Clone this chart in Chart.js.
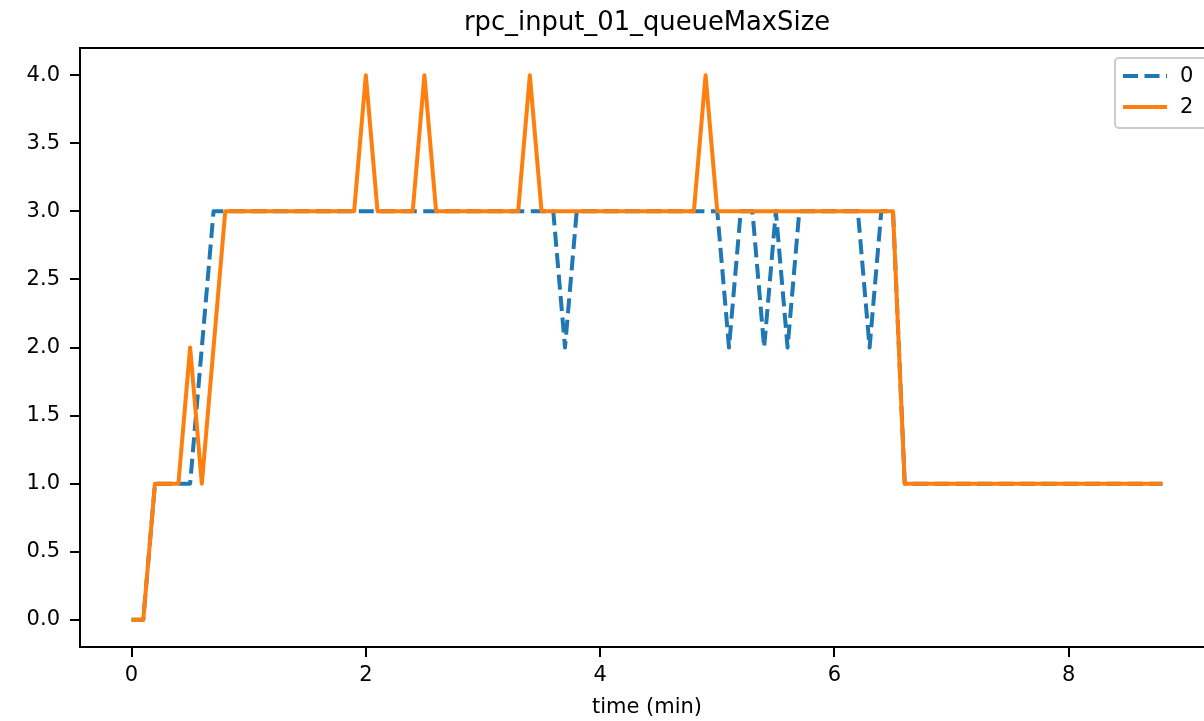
<!DOCTYPE html>
<html>
<head>
<meta charset="utf-8">
<script src="https://cdn.jsdelivr.net/npm/chart.js@4"></script>
<style>
  html, body { margin: 0; padding: 0; background: #fff; }
  #wrap { width: 1204px; height: 721px; overflow: hidden; position: relative; }
  canvas { display: block; }
</style>
</head>
<body>
<div id="wrap"><canvas id="c" width="1220" height="721"></canvas></div>
<script>
const chartTitle = "rpc_input_01_queueMaxSize";
const xLabel = "time (min)";
const seriesNames = ["0", "2"];
const times = [
  0.0,0.1,0.2,0.3,0.4,0.5,0.6,0.7,0.8,0.9,
  1.0,1.1,1.2,1.3,1.4,1.5,1.6,1.7,1.8,1.9,
  2.0,2.1,2.2,2.3,2.4,2.5,2.6,2.7,2.8,2.9,
  3.0,3.1,3.2,3.3,3.4,3.5,3.6,3.7,3.8,3.9,
  4.0,4.1,4.2,4.3,4.4,4.5,4.6,4.7,4.8,4.9,
  5.0,5.1,5.2,5.3,5.4,5.5,5.6,5.7,5.8,5.9,
  6.0,6.1,6.2,6.3,6.4,6.5,6.6,6.7,6.8,6.9,
  7.0,7.1,7.2,7.3,7.4,7.5,7.6,7.7,7.8,7.9,
  8.0,8.1,8.2,8.3,8.4,8.5,8.6,8.7,8.8
];
const series0 = [
  0,0,1,1,1,1,2,3,3,3,
  3,3,3,3,3,3,3,3,3,3,
  3,3,3,3,3,3,3,3,3,3,
  3,3,3,3,3,3,3,2,3,3,
  3,3,3,3,3,3,3,3,3,3,
  3,2,3,3,2,3,2,3,3,3,
  3,3,3,2,3,3,1,1,1,1,
  1,1,1,1,1,1,1,1,1,1,
  1,1,1,1,1,1,1,1,1
];
const series2 = [
  0,0,1,1,1,2,1,2,3,3,
  3,3,3,3,3,3,3,3,3,3,
  4,3,3,3,3,4,3,3,3,3,
  3,3,3,3,4,3,3,3,3,3,
  3,3,3,3,3,3,3,3,3,4,
  3,3,3,3,3,3,3,3,3,3,
  3,3,3,3,3,3,1,1,1,1,
  1,1,1,1,1,1,1,1,1,1,
  1,1,1,1,1,1,1,1,1
];
const xTicks = [0, 2, 4, 6, 8];
const yTicks = [0, 0.5, 1, 1.5, 2, 2.5, 3, 3.5, 4];

const BLUE = "#1f77b4", ORANGE = "#ff7f0e";
const FONT = "'DejaVu Sans', sans-serif";
const TICK_SIZE = 21;
const pts = (ys) => times.map((t, i) => ({ x: t, y: ys[i] }));

const frame = {
  id: "frame",
  afterDatasetsDraw(chart) {
    const { ctx, chartArea: a } = chart;
    ctx.save();
    ctx.strokeStyle = "#000";
    ctx.lineWidth = 2;
    ctx.strokeRect(a.left, a.top, a.right - a.left, a.bottom - a.top);
    ctx.restore();
  },
  afterDraw(chart) {
    const { ctx, chartArea: a } = chart;
    const ds = chart.data.datasets;
    ctx.save();
    // title centred over the axes
    ctx.fillStyle = "#000";
    ctx.font = "25.8px " + FONT;
    ctx.textAlign = "center";
    ctx.textBaseline = "middle";
    ctx.fillText(chartTitle, (a.left + a.right) / 2, 23);
    // legend
    const x0 = a.right - 99, y0 = a.top + 10, w = 120, h = 70;
    ctx.beginPath();
    ctx.roundRect(x0, y0, w, h, 4);
    ctx.fillStyle = "rgba(255,255,255,0.8)";
    ctx.fill();
    ctx.strokeStyle = "#cccccc";
    ctx.lineWidth = 2;
    ctx.stroke();
    const rows = [y0 + 18, y0 + 49];
    ds.forEach((d, i) => {
      ctx.beginPath();
      ctx.strokeStyle = d.borderColor;
      ctx.lineWidth = 4;
      ctx.setLineDash(d.borderDash || []);
      ctx.moveTo(x0 + 8, rows[i]);
      ctx.lineTo(x0 + 52, rows[i]);
      ctx.stroke();
      ctx.setLineDash([]);
      ctx.fillStyle = "#000";
      ctx.font = TICK_SIZE + "px " + FONT;
      ctx.textBaseline = "middle";
      ctx.textAlign = "left";
      ctx.fillText(d.label, x0 + 65, rows[i] + 1);
    });
    ctx.restore();
  }
};

new Chart(document.getElementById("c"), {
  type: "line",
  data: {
    datasets: [
      { label: seriesNames[0], data: pts(series0), borderColor: BLUE, borderWidth: 4,
        borderDash: [15, 6.5], pointRadius: 0, tension: 0, fill: false, order: 2,
        borderJoinStyle: "round", borderCapStyle: "butt" },
      { label: seriesNames[1], data: pts(series2), borderColor: ORANGE, borderWidth: 4,
        pointRadius: 0, tension: 0, fill: false, order: 1,
        borderJoinStyle: "round", borderCapStyle: "butt" }
    ]
  },
  options: {
    responsive: false,
    animation: false,
    devicePixelRatio: 1,
    layout: { padding: { top: 48, right: 6, bottom: 0, left: 0 } },
    plugins: {
      legend: { display: false },
      tooltip: { enabled: false },
      title: { display: false }
    },
    scales: {
      x: {
        type: "linear", min: -0.44, max: 9.24,
        afterBuildTicks: (s) => { s.ticks = xTicks.map(v => ({ value: v })); },
        afterFit: (s) => { s.height = 74; },
        ticks: { color: "#000", font: { family: FONT, size: TICK_SIZE }, padding: 6,
                 maxRotation: 0, callback: (v) => String(v) },
        grid: { display: true, drawOnChartArea: false, drawTicks: true, tickLength: 10,
                color: "#000", lineWidth: 2 },
        border: { display: true, color: "#000", width: 2 },
        title: { display: true, text: xLabel, color: "#000",
                 font: { family: FONT, size: TICK_SIZE }, padding: { top: 0, bottom: 1 } }
      },
      y: {
        type: "linear", min: -0.2, max: 4.2,
        afterBuildTicks: (s) => { s.ticks = yTicks.map(v => ({ value: v })); },
        afterFit: (s) => { s.width = 80; },
        ticks: { color: "#000", font: { family: FONT, size: TICK_SIZE }, padding: 10,
                 callback: (v) => Number(v).toFixed(1) },
        grid: { display: true, drawOnChartArea: false, drawTicks: true, tickLength: 10,
                color: "#000", lineWidth: 2 },
        border: { display: true, color: "#000", width: 2 }
      }
    }
  },
  plugins: [frame]
});
</script>
</body>
</html>
